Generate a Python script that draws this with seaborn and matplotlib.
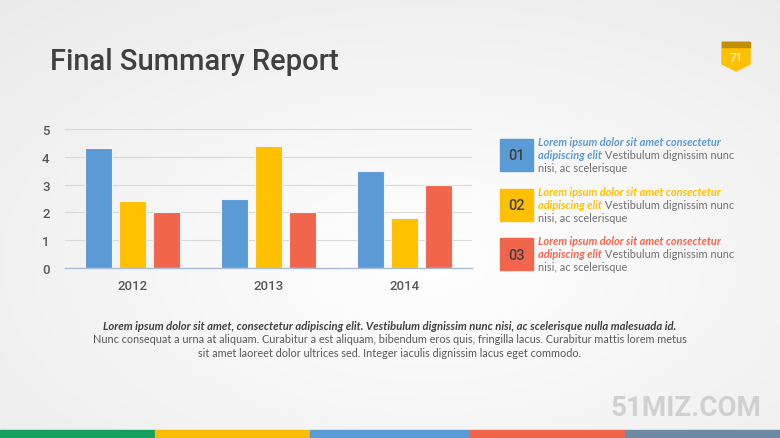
import numpy as np
import pandas as pd
import seaborn as sns
import matplotlib.pyplot as plt
from matplotlib.patches import Polygon, Rectangle


# -----------------------------------
# Data
# -----------------------------------

years = ["2012", "2013", "2014"]
series_names = ["01", "02", "03"]
series_01 = [4.3, 2.5, 3.5]
series_02 = [2.4, 4.4, 1.8]
series_03 = [2.0, 2.0, 3.0]
y_ticks = [0, 1, 2, 3, 4, 5]

colors = ["#5B9BD5", "#FFC000", "#F1654C"]
strip_colors = ["#17A05D", "#FBBC05", "#5B9BD5", "#F1654C", "#7089A3"]

title = "Final Summary Report"
page_number = "71"
legend_head = "Lorem ipsum dolor sit amet consectetur"
legend_head2 = "adipiscing elit"
legend_tail = " Vestibulum dignissim nunc"
legend_tail2 = "nisi, ac scelerisque"
para_bold = ("Lorem ipsum dolor sit amet, consectetur adipiscing elit. "
             "Vestibulum dignissim nunc nisi, ac scelerisque nulla malesuada id.")
para_lines = [
    "Nunc consequat a urna at aliquam. Curabitur a est aliquam, bibendum eros quis, "
    "fringilla lacus. Curabitur mattis lorem metus",
    "sit amet laoreet dolor ultrices sed. Integer iaculis dignissim lacus eget commodo.",
]

df = pd.DataFrame({
    "year": years * 3,
    "series": [s for s in series_names for _ in years],
    "value": series_01 + series_02 + series_03,
})

sns.set_theme(style="white")
plt.rcParams["font.family"] = ["Roboto", "DejaVu Sans"]

W, H = 780, 439
fig = plt.figure(figsize=(W / 100, H / 100), dpi=100)


def fx(px):
    return px / W


def fy(py):
    return 1 - py / H


# -----------------------------------
# Background
# -----------------------------------

bg = fig.add_axes([0, 0, 1, 1], zorder=-10)
gx, gy = np.meshgrid(np.linspace(0, 1, 200), np.linspace(0, 1, 120))
dist = np.sqrt(((gx - 0.55) / 0.9) ** 2 + ((gy - 0.6) / 0.9) ** 2)
shade = 1.0 - 0.09 * np.clip(dist, 0, 1)
bg.imshow(np.dstack([shade] * 3), aspect="auto", extent=[0, 1, 0, 1],
          interpolation="bilinear")
bg.set_axis_off()

# bottom color strip
seg_edges = [0, 155, 310, 470, 625, 780]
for i, c in enumerate(strip_colors):
    fig.patches.append(Rectangle((fx(seg_edges[i]), 0),
                                 fx(seg_edges[i + 1] - seg_edges[i]), 8 / H,
                                 transform=fig.transFigure, color=c, zorder=5))

# -----------------------------------
# Bar chart
# -----------------------------------

ax = fig.add_axes([fx(65), fy(269), fx(407), (269 - 130) / H])
ax.patch.set_alpha(0)

sns.barplot(
    data=df,
    x="year",
    y="value",
    hue="series",
    palette=colors,
    saturation=1,
    width=0.75,
    gap=0.2,
    edgecolor="#f4f4f4",
    linewidth=0.8,
    legend=False,
    ax=ax,
)

ax.set_ylim(0, 5)
ax.set_xlim(-0.5, 2.5)
ax.set_yticks(y_ticks)
ax.yaxis.grid(True, color="#d9d9d9", linewidth=0.8)
ax.set_axisbelow(True)
for side in ["top", "right", "left"]:
    ax.spines[side].set_visible(False)
ax.spines["bottom"].set_color("#a9bcd9")
ax.spines["bottom"].set_linewidth(1.0)
ax.set_xlabel("")
ax.set_ylabel("")
ax.tick_params(axis="y", length=0, pad=11, labelsize=9.5, labelcolor="#595959")
ax.tick_params(axis="x", length=0, pad=8, labelsize=9.5, labelcolor="#595959")
for lab in ax.get_xticklabels() + ax.get_yticklabels():
    lab.set_fontweight("medium")

# -----------------------------------
# Title and badge
# -----------------------------------

fig.text(fx(50), fy(62), title, fontsize=21, color="#404040",
         fontweight="medium", va="center", ha="left")

badge = Polygon([(fx(722), fy(43)), (fx(750), fy(43)), (fx(750), fy(65)),
                 (fx(736), fy(72)), (fx(722), fy(65))],
                closed=True, transform=fig.transFigure, color="#FFC000")
fig.patches.append(badge)
fig.patches.append(Rectangle((fx(722), fy(48)), fx(28), 5 / H,
                             transform=fig.transFigure, color="#BF9000"))
fig.text(fx(736), fy(58.5), page_number, fontsize=8.5, color="white",
         ha="center", va="center")

# -----------------------------------
# Side legend
# -----------------------------------

renderer = fig.canvas.get_renderer()
legend_font = ["Lato", "DejaVu Sans"]
item_tops = [140, 190, 239]

for i, top in enumerate(item_tops):
    fig.patches.append(Rectangle((fx(500), fy(top + 32)), fx(33), 32 / H,
                                 transform=fig.transFigure, color=colors[i]))
    fig.text(fx(516.5), fy(top + 16.5), series_names[i], fontsize=10.5,
             color="#404040", fontweight="medium", ha="center", va="center")

    y1 = fy(top + 3)
    y2 = fy(top + 16)
    y3 = fy(top + 29)
    fig.text(fx(538), y1, legend_head, fontsize=7.9, color=colors[i],
             fontweight="bold", style="italic", family=legend_font,
             va="center", ha="left")
    t = fig.text(fx(538), y2, legend_head2, fontsize=7.9, color=colors[i],
                 fontweight="bold", style="italic", family=legend_font,
                 va="center", ha="left")
    bb = t.get_window_extent(renderer)
    fig.text(bb.x1 / fig.dpi / fig.get_figwidth(), y2, legend_tail,
             fontsize=7.9, color="#707070", family=legend_font,
             va="center", ha="left")
    fig.text(fx(538), y3, legend_tail2, fontsize=7.9, color="#707070",
             family=legend_font, va="center", ha="left")

# -----------------------------------
# Paragraph below chart
# -----------------------------------

fig.text(fx(390), fy(326), para_bold, fontsize=8.1, color="#404040",
         fontweight="bold", style="italic", family=legend_font,
         ha="center", va="center")
for k, line in enumerate(para_lines):
    fig.text(fx(390), fy(340 + 13.5 * k), line, fontsize=7.8, color="#595959",
             family=legend_font, ha="center", va="center")

# watermark
fig.text(fx(686), fy(409), "51MIZ.COM", fontsize=20, color="#d0d0d0",
         fontweight="bold", ha="center", va="center")

plt.savefig("out.png", dpi=100)
plt.close(fig)
